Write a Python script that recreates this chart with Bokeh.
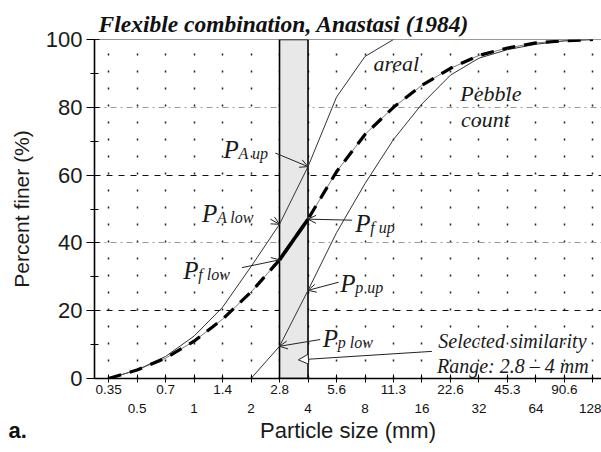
from bokeh.plotting import figure
from bokeh.models import (FixedTicker, LogAxis, CustomJSTickFormatter, Grid, Span,
                          Label, Arrow, OpenHead, NormalHead, Title)
from bokeh.embed import file_html
from bokeh.resources import INLINE

# ---------------- data ----------------
row1_ticks = [0.354, 0.707, 1.414, 2.828, 5.657, 11.31, 22.63, 45.25, 90.51]
row1_labels = ["0.35", "0.7", "1.4", "2.8", "5.6", "11.3", "22.6", "45.3", "90.6"]
row2_ticks = [0.5, 1, 2, 4, 8, 16, 32, 64, 128]
row2_labels = ["0.5", "1", "2", "4", "8", "16", "32", "64", "128"]
y_major = [0, 20, 40, 60, 80, 100]
y_minor = [10, 30, 50, 70, 90]

areal_size = [0.354, 0.5, 0.707, 1, 1.414, 2, 2.828, 4, 5.657, 8, 11.31]
areal_pct = [0, 2.5, 6.5, 12.5, 21, 33, 45.5, 62.5, 83, 95, 100]

flex_size = [0.354, 0.5, 0.707, 1, 1.414, 2, 2.828, 4, 5.657, 8, 11.31, 16, 22.63, 32,
             45.25, 64, 90.51, 128]
flex_pct = [0, 2.5, 6, 11, 17.5, 25.5, 35, 47, 61, 72, 80, 86.5, 91.5, 95.3,
            97.5, 99, 99.6, 100]

pebble_size = [2, 2.828, 4, 5.657, 8, 11.31, 16, 22.63, 32, 45.25, 64, 90.51, 128]
pebble_pct = [0, 9.5, 26, 43, 57.5, 70.5, 81, 89.5, 94.5, 97, 98.6, 99.6, 100]

range_low = 2.828
range_high = 4.0

# P-label annotations: subscript, label anchor, arrow start, arrow tip
p_subs = ["A up", "A low", "f up", "f low", "p up", "p low"]
p_label_x = [1.43, 1.10, 7.1, 0.877, 5.92, 4.79]
p_label_y = [67.6, 48.7, 45.7, 31.9, 28.0, 11.7]
p_arrow_x0 = [2.69, 2.53, 6.84, 1.79, 5.8, 4.64]
p_arrow_y0 = [66.5, 47.0, 46.7, 32.7, 28.4, 11.5]
p_tip_x = [4.0, 2.828, 4.0, 2.828, 4.0, 2.828]
p_tip_y = [62.5, 45.5, 47.0, 35.0, 26.0, 9.5]

# ---------------- figure ----------------
p = figure(width=601, height=452, x_axis_type="log", x_range=(0.298, 142), y_range=(0, 100),
           output_backend="svg", toolbar_location=None,
           min_border_left=94, min_border_right=0, min_border_top=39, min_border_bottom=74)
p.outline_line_color = None
p.background_fill_color = "white"
p.border_fill_color = "white"

p.title.text = "Flexible combination, Anastasi (1984)"
p.title.text_font = "Liberation Serif"
p.title.text_font_style = "bold italic"
p.title.text_font_size = "23.5px"
p.title.text_color = "#111111"
p.title.align = "left"
p.title.offset = 4
p.title.standoff = 6

# grids
all_ticks = sorted(row1_ticks + row2_ticks)
p.xgrid.ticker = FixedTicker(ticks=all_ticks)
p.xgrid.grid_line_color = "#222222"
p.xgrid.grid_line_dash = "2 15"
p.xgrid.grid_line_width = 1.5
p.ygrid.ticker = FixedTicker(ticks=[20, 60])
p.ygrid.grid_line_color = "#111111"
p.ygrid.grid_line_dash = "6 6"
p.ygrid.grid_line_width = 1.2
g2 = Grid(dimension=1, ticker=FixedTicker(ticks=[40, 80]), grid_line_color="#999999",
          grid_line_dash="6 4 2 4", grid_line_width=1.2)
p.add_layout(g2)

# top border
p.add_layout(Span(location=100, dimension="width", line_color="#333333", line_width=1.2))

# selected range box
p.quad(left=[range_low], right=[range_high], bottom=[0], top=[100],
       fill_color="#e8e8e8", line_color="black", line_width=1.6)

# curves
p.line(areal_size, areal_pct, line_color="#333333", line_width=1)
p.line(pebble_size, pebble_pct, line_color="#333333", line_width=1)
p.line(flex_size, flex_pct, line_color="#555555", line_width=0.8)
p.line(flex_size, flex_pct, line_color="black", line_width=3.2, line_dash="13 9")
i0 = flex_size.index(range_low)
i1 = flex_size.index(range_high)
p.line(flex_size[i0:i1 + 1], flex_pct[i0:i1 + 1], line_color="black", line_width=3.6)

# y axis
ya = p.yaxis[0]
ya.ticker = FixedTicker(ticks=y_major, minor_ticks=y_minor)
ya.axis_line_width = 1.6
ya.major_tick_in = 5
ya.major_tick_out = 8
ya.minor_tick_in = 4
ya.minor_tick_out = 4
ya.major_label_text_font = "Liberation Sans"
ya.major_label_text_font_size = "22px"
ya.major_label_text_color = "#1a1a1a"
ya.major_label_standoff = 4
ya.axis_label = "Percent finer (%)"
ya.axis_label_text_font = "Liberation Sans"
ya.axis_label_text_font_style = "normal"
ya.axis_label_text_font_size = "21px"
ya.axis_label_text_color = "#1a1a1a"
ya.axis_label_standoff = 10

fmt_code = """
for (let i = 0; i < vals.length; i++) {
  if (Math.abs(Math.log(tick / vals[i])) < 0.01) return labels[i];
}
return "";
"""

xa = p.xaxis[0]
xa.ticker = FixedTicker(ticks=all_ticks, minor_ticks=[])
xa.formatter = CustomJSTickFormatter(args=dict(vals=row1_ticks, labels=row1_labels), code=fmt_code)
xa.axis_line_width = 1.6
xa.major_tick_in = 4
xa.major_tick_out = 4
xa.minor_tick_in = 0
xa.minor_tick_out = 0
xa.major_label_text_font = "Liberation Sans"
xa.major_label_text_font_size = "13.5px"
xa.major_label_text_color = "#111111"
xa.major_label_standoff = 2

xa2 = LogAxis(ticker=FixedTicker(ticks=row2_ticks, minor_ticks=[]),
              formatter=CustomJSTickFormatter(args=dict(vals=row2_ticks, labels=row2_labels), code=fmt_code))
xa2.axis_line_color = None
xa2.major_tick_line_color = None
xa2.minor_tick_line_color = None
xa2.major_tick_out = 0
xa2.major_tick_in = 0
xa2.minor_tick_out = 0
xa2.major_label_text_font = "Liberation Sans"
xa2.major_label_text_font_size = "13.5px"
xa2.major_label_text_color = "#111111"
xa2.major_label_standoff = 7
xa2.axis_label = "Particle size (mm)"
xa2.axis_label_text_font = "Liberation Sans"
xa2.axis_label_text_font_style = "normal"
xa2.axis_label_text_font_size = "22px"
xa2.axis_label_text_color = "#1a1a1a"
xa2.axis_label_standoff = 2
p.add_layout(xa2, "below")

# panel letter as a zero-height title in the bottom panel
tl = Title(text="a.", align="left", vertical_align="top", offset=-86, standoff=-56,
           text_font="Liberation Sans", text_font_style="bold", text_font_size="22px",
           text_color="#111111")
p.add_layout(tl, "below")

# annotations
serif = "Liberation Serif"
txt_col = "#1a1a1a"
for sub, lx, ly, ax0, ay0, tx, ty in zip(p_subs, p_label_x, p_label_y, p_arrow_x0, p_arrow_y0, p_tip_x, p_tip_y):
    p.add_layout(Label(x=lx, y=ly, text="P", text_font=serif, text_font_style="italic",
                       text_font_size="25px", text_color=txt_col, text_baseline="alphabetic"))
    p.add_layout(Label(x=lx, y=ly, x_offset=15, y_offset=-4, text=sub, text_font=serif,
                       text_font_style="italic", text_font_size="16px", text_color=txt_col,
                       text_baseline="alphabetic"))
    p.add_layout(Arrow(x_start=ax0, y_start=ay0, x_end=tx, y_end=ty, line_color="#222222", line_width=1,
                       end=OpenHead(size=8, line_color="#222222", line_width=1)))

p.add_layout(Label(x=8.87, y=93, text="areal", text_font=serif, text_font_style="italic",
                   text_font_size="22px", text_color=txt_col, text_baseline="alphabetic"))
p.add_layout(Label(x=25.5, y=84.1, text="Pebble", text_font=serif, text_font_style="italic",
                   text_font_size="22px", text_color=txt_col, text_baseline="alphabetic"))
p.add_layout(Label(x=25.7, y=76.4, text="count", text_font=serif, text_font_style="italic",
                   text_font_size="22px", text_color=txt_col, text_baseline="alphabetic"))
p.add_layout(Label(x=19.5, y=11.2, text="Selected similarity", text_font=serif, text_font_style="italic",
                   text_font_size="20px", text_color=txt_col, text_baseline="alphabetic"))
p.add_layout(Label(x=19.2, y=3.8, text="Range: 2.8 \u2013 4 mm", text_font=serif, text_font_style="italic",
                   text_font_size="20px", text_color=txt_col, text_baseline="alphabetic"))
p.add_layout(Arrow(x_start=18.05, y_start=8.0, x_end=3.56, y_end=5.5, line_color="#222222", line_width=1,
                   end=NormalHead(size=10, fill_color="white", line_color="#222222", line_width=1)))

open("out.html", "w").write(file_html(p, INLINE))
